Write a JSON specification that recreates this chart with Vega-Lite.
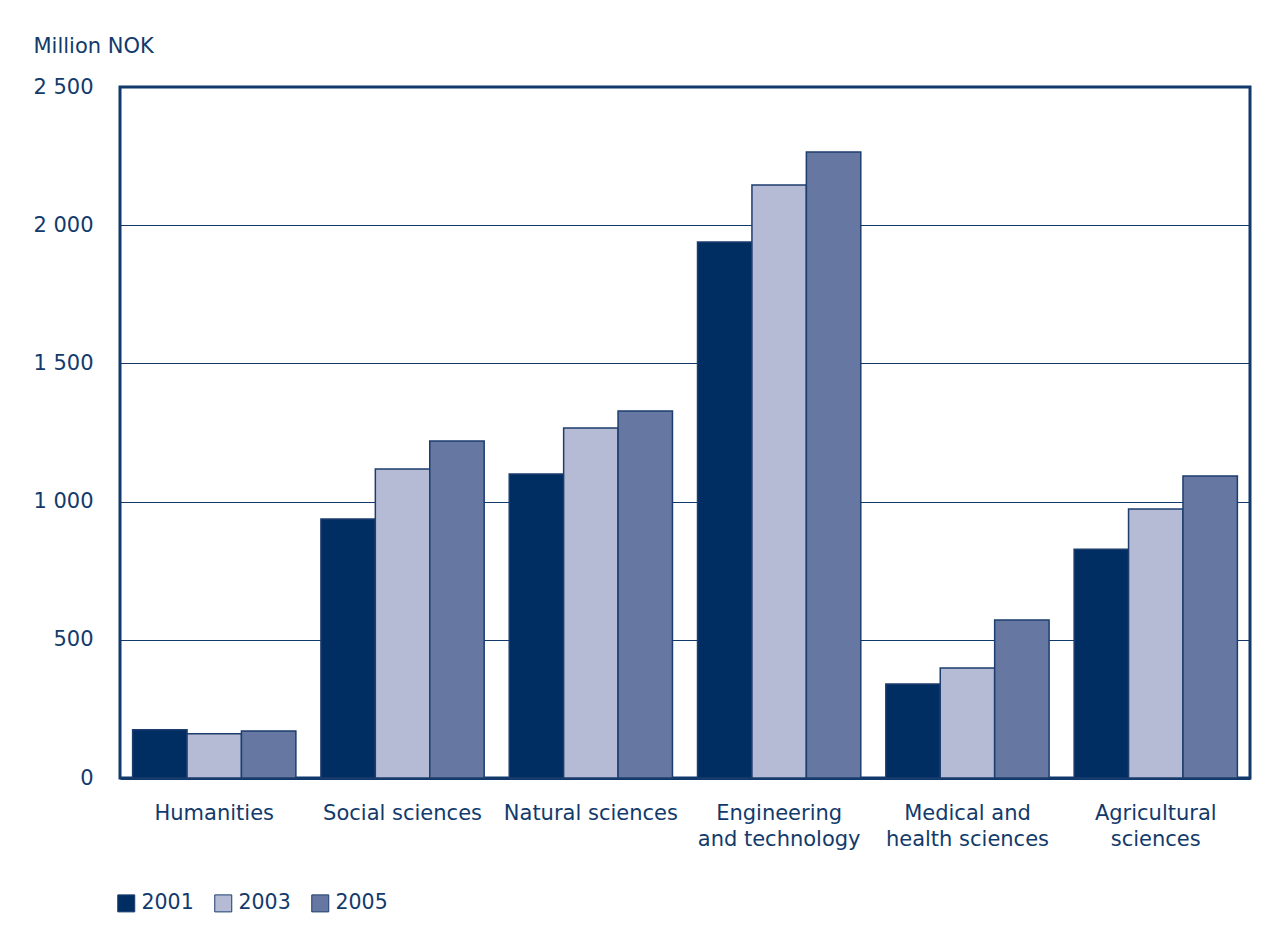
{
  "$schema": "https://vega.github.io/schema/vega-lite/v6.json",
  "width": 1130,
  "height": 691,
  "autosize": {"type": "none"},
  "padding": {"left": 120, "top": 87, "right": 37, "bottom": 153},
  "background": "white",
  "data": {
    "values": [
      {"field": "Humanities", "year": "2001", "value": 175},
      {"field": "Humanities", "year": "2003", "value": 160},
      {"field": "Humanities", "year": "2005", "value": 170},
      {"field": "Social sciences", "year": "2001", "value": 937},
      {"field": "Social sciences", "year": "2003", "value": 1118},
      {"field": "Social sciences", "year": "2005", "value": 1219},
      {"field": "Natural sciences", "year": "2001", "value": 1100},
      {"field": "Natural sciences", "year": "2003", "value": 1266},
      {"field": "Natural sciences", "year": "2005", "value": 1328},
      {"field": "Engineering|and technology", "year": "2001", "value": 1939},
      {"field": "Engineering|and technology", "year": "2003", "value": 2145},
      {"field": "Engineering|and technology", "year": "2005", "value": 2265},
      {"field": "Medical and|health sciences", "year": "2001", "value": 340},
      {"field": "Medical and|health sciences", "year": "2003", "value": 398},
      {"field": "Medical and|health sciences", "year": "2005", "value": 572},
      {"field": "Agricultural|sciences", "year": "2001", "value": 828},
      {"field": "Agricultural|sciences", "year": "2003", "value": 973},
      {"field": "Agricultural|sciences", "year": "2005", "value": 1093}
    ]
  },
  "mark": {"type": "bar", "stroke": "#1d3d6e", "strokeWidth": 1.5},
  "encoding": {
    "x": {
      "field": "field",
      "type": "nominal",
      "sort": null,
      "scale": {"paddingInner": 0.133, "paddingOuter": 0.067},
      "axis": {
        "title": null,
        "labelAngle": 0,
        "ticks": false,
        "domain": true,
        "domainColor": "#12396b",
        "domainWidth": 3,
        "labelPadding": 24,
        "labelBaseline": "top",
        "labelLineHeight": 26,
        "labelExpr": "split(datum.label, '|')"
      }
    },
    "xOffset": {"field": "year", "type": "nominal"},
    "y": {
      "field": "value",
      "type": "quantitative",
      "scale": {"domain": [0, 2500], "nice": false},
      "axis": {
        "title": "Million NOK",
        "titleAngle": 0,
        "titleAlign": "left",
        "titleBaseline": "alphabetic",
        "titleX": -87,
        "titleY": -35,
        "titleFontWeight": "normal",
        "values": [0, 500, 1000, 1500, 2000, 2500],
        "labelExpr": "replace(format(datum.value, ','), ',', ' ')",
        "ticks": false,
        "domain": false,
        "labelPadding": 27,
        "grid": true,
        "gridColor": "#12396b",
        "gridWidth": 1
      }
    },
    "color": {
      "field": "year",
      "type": "nominal",
      "scale": {"domain": ["2001", "2003", "2005"], "range": ["#002d62", "#b5bad5", "#6678a2"]},
      "legend": {
        "title": null,
        "orient": "none",
        "direction": "horizontal",
        "legendX": -4,
        "legendY": 806,
        "padding": 0,
        "symbolType": "square",
        "symbolSize": 289,
        "symbolStrokeColor": "#1d3d6e",
        "symbolStrokeWidth": 1,
        "symbolOpacity": 1,
        "labelOffset": 5,
        "columnPadding": 18,
        "labelFontSize": 20.5
      }
    }
  },
  "config": {
    "font": "DejaVu Sans",
    "view": {"stroke": "#12396b", "strokeWidth": 3},
    "axis": {
      "labelFont": "DejaVu Sans",
      "labelFontSize": 21,
      "labelColor": "#123a6b",
      "titleFont": "DejaVu Sans",
      "titleFontSize": 21,
      "titleColor": "#123a6b"
    },
    "legend": {"labelFont": "DejaVu Sans", "labelColor": "#123a6b"}
  }
}
